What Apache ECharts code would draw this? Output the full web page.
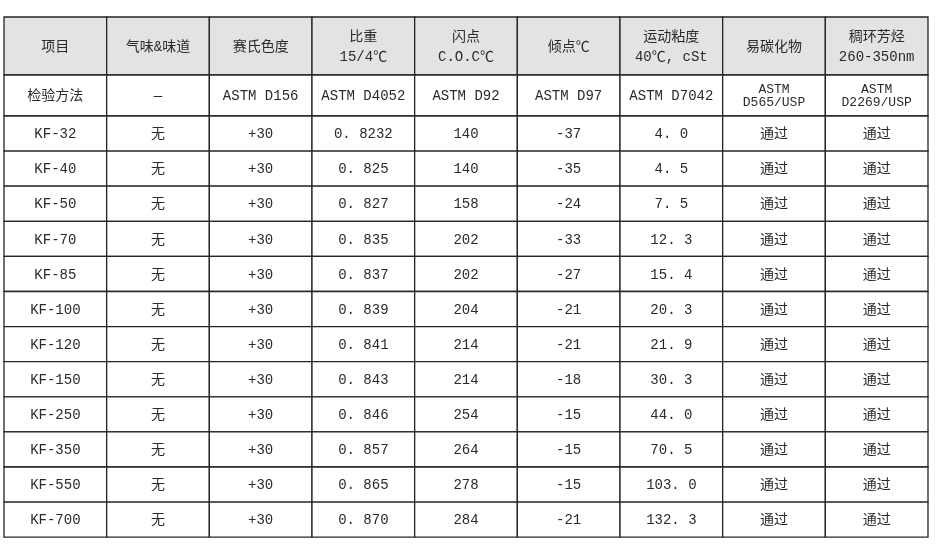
<!DOCTYPE html>
<html><head><meta charset="utf-8">
<script src="https://cdn.jsdelivr.net/npm/echarts@6/dist/echarts.min.js"></script>
<style>html,body{margin:0;background:#fff}#c{width:938px;height:550px}</style>
</head><body><div id="c"></div>
<script>
var headers = ['项目', '气味&味道', '赛氏色度', '比重\n15/4℃', '闪点\nC.O.C℃', '倾点℃', '运动粘度\n40℃, cSt', '易碳化物', '稠环芳烃\n260-350nm']
var methods = ['检验方法', '—', 'ASTM D156', 'ASTM D4052', 'ASTM D92', 'ASTM D97', 'ASTM D7042', 'ASTM\nD565/USP', 'ASTM\nD2269/USP']
var grades = ['KF-32', 'KF-40', 'KF-50', 'KF-70', 'KF-85', 'KF-100', 'KF-120', 'KF-150', 'KF-250', 'KF-350', 'KF-550', 'KF-700']
var odor = ['无', '无', '无', '无', '无', '无', '无', '无', '无', '无', '无', '无']
var saybolt = ['+30', '+30', '+30', '+30', '+30', '+30', '+30', '+30', '+30', '+30', '+30', '+30']
var density = ['0.8232', '0.825', '0.827', '0.835', '0.837', '0.839', '0.841', '0.843', '0.846', '0.857', '0.865', '0.870']
var flashPoint = [140, 140, 158, 202, 202, 204, 214, 214, 254, 264, 278, 284]
var pourPoint = [-37, -35, -24, -33, -27, -21, -21, -18, -15, -15, -15, -21]
var viscosity = ['4.0', '4.5', '7.5', '12.3', '15.4', '20.3', '21.9', '30.3', '44.0', '70.5', '103.0', '132.3']
var carbonizable = ['通过', '通过', '通过', '通过', '通过', '通过', '通过', '通过', '通过', '通过', '通过', '通过']
var aromatics = ['通过', '通过', '通过', '通过', '通过', '通过', '通过', '通过', '通过', '通过', '通过', '通过']

var rowH = [58, 41].concat(grades.map(function () { return 35.1 }))
var rowTop = []
var acc = 0
rowH.forEach(function (h) { rowTop.push(acc); acc += h })

var rows = [headers, methods]
grades.forEach(function (g, i) {
  rows.push([g, odor[i], saybolt[i], density[i].replace('.', '. '), String(flashPoint[i]), String(pourPoint[i]),
    viscosity[i].replace('.', '. '), carbonizable[i], aromatics[i]])
})
var cells = []
rows.forEach(function (r, ri) { r.forEach(function (t, ci) { cells.push([ci, ri, t]) }) })

var chart = echarts.init(document.getElementById('c'))
chart.setOption({
  animation: false,
  grid: { left: 4, top: 17, width: 924, height: acc },
  xAxis: { type: 'value', min: 0, max: 9, show: false },
  yAxis: { type: 'value', min: 0, max: acc, inverse: true, show: false },
  series: [{
    type: 'custom',
    data: cells,
    renderItem: function (params, api) {
      var c = api.value(0), r = api.value(1)
      var p0 = api.coord([c, rowTop[r]])
      var p1 = api.coord([c + 1, rowTop[r] + rowH[r]])
      var txt = cells[params.dataIndex][2]
      var twoLine = txt.indexOf('\n') >= 0
      return {
        type: 'group',
        children: [{
          type: 'rect',
          shape: { x: p0[0], y: p0[1], width: p1[0] - p0[0], height: p1[1] - p0[1] },
          style: { fill: r === 0 ? '#e2e3e2' : '#fff', stroke: '#2a2420', lineWidth: 1.3 }
        }, {
          type: 'text',
          style: {
            x: (p0[0] + p1[0]) / 2, y: (p0[1] + p1[1]) / 2 + 1,
            text: txt, align: 'center', verticalAlign: 'middle',
            fill: '#2a2a2a',
            font: (twoLine && r === 1 ? '13px' : '14px') + ' "Liberation Mono", "Noto Sans CJK SC", monospace',
            lineHeight: twoLine ? (r === 1 ? 13 : 20) : 16
          }
        }]
      }
    }
  }]
})
</script></body></html>
